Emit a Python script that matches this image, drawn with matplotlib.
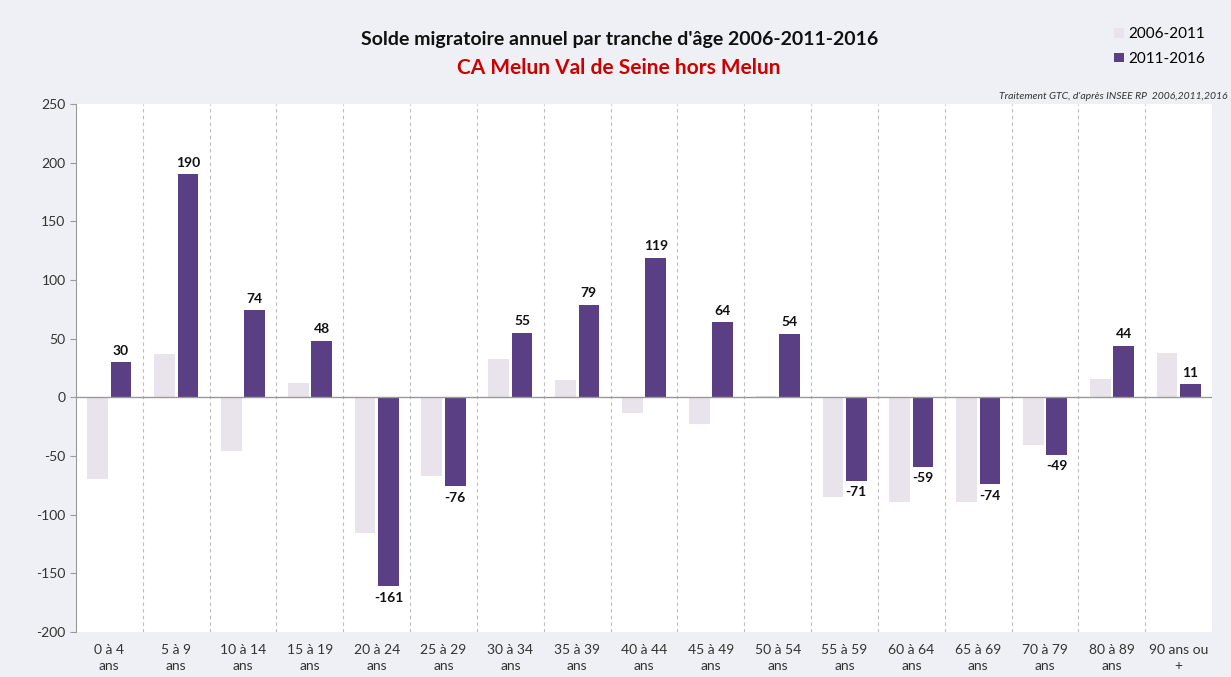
import matplotlib.pyplot as plt
import numpy as np

plt.rcParams['font.family'] = ['Lato', 'DejaVu Sans']
plt.rcParams['axes.unicode_minus'] = False

# Tranches d'âge
categories = ["0 à 4\nans", "5 à 9\nans", "10 à 14\nans", "15 à 19\nans", "20 à 24\nans",
              "25 à 29\nans", "30 à 34\nans", "35 à 39\nans", "40 à 44\nans", "45 à 49\nans",
              "50 à 54\nans", "55 à 59\nans", "60 à 64\nans", "65 à 69\nans", "70 à 79\nans",
              "80 à 89\nans", "90 ans ou\n+"]

# Solde migratoire annuel
solde_2006_2011 = [-70, 37, -46, 12, -116, -67, 33, 15, -13, -23, 1, -85, -89, -89, -41, 16, 38]
solde_2011_2016 = [30, 190, 74, 48, -161, -76, 55, 79, 119, 64, 54, -71, -59, -74, -49, 44, 11]

light = '#e9e3ec'
dark = '#5b3f84'

fig = plt.figure(figsize=(12.31, 6.77), dpi=100, facecolor='#eef0f5')
ax = fig.add_axes([0.0617, 0.0665, 0.923, 0.78])
ax.set_facecolor('white')

x = np.arange(len(categories))
w = 0.31
b1 = ax.bar(x - 0.175, solde_2006_2011, w, color=light, label='2006-2011')
b2 = ax.bar(x + 0.175, solde_2011_2016, w, color=dark, label='2011-2016')
ax.bar_label(b2, padding=4, fontsize=10, fontweight='bold', color='#111111')

ax.set_xlim(-0.5, len(categories) - 0.5)
ax.set_ylim(-200, 250)
ax.set_yticks(range(-200, 251, 50))
ax.set_xticks(x)
ax.set_xticklabels(categories, fontsize=10, color='#333333', linespacing=1.4)
ax.tick_params(axis='x', length=0, pad=9)
ax.tick_params(axis='y', labelsize=10, colors='#333333', length=4, color='#999999')

# séparateurs verticaux pointillés
for i in range(1, len(categories)):
    ax.axvline(i - 0.5, color='#bbbbbb', linestyle=(0, (3, 3)), linewidth=0.8, zorder=0)
ax.axhline(0, color='#999999', linewidth=1)

for s in ['top', 'right', 'bottom']:
    ax.spines[s].set_visible(False)
ax.spines['left'].set_color('#999999')

fig.text(0.503, 0.942, "Solde migratoire annuel par tranche d'âge 2006-2011-2016",
         ha='center', va='center', fontsize=14, fontweight='bold', color='#111111')
fig.text(0.503, 0.899, "CA Melun Val de Seine hors Melun",
         ha='center', va='center', fontsize=15, fontweight='bold', color='#cc0000')
fig.text(0.997, 0.857, "Traitement GTC, d'après INSEE RP  2006,2011,2016",
         ha='right', va='center', fontsize=7.5, style='italic', color='#333333')

fig.legend(handles=[b1, b2], loc='upper right', bbox_to_anchor=(0.99, 0.98),
           frameon=False, fontsize=11, handlelength=0.6, handleheight=0.6,
           handletextpad=0.3, labelspacing=0.7)

fig.savefig('out.png', dpi=100, facecolor=fig.get_facecolor())
